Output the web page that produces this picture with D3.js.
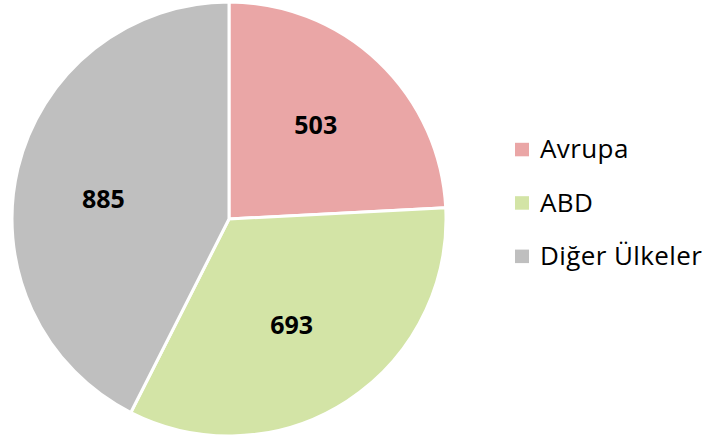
<!DOCTYPE html>
<html><head><meta charset="utf-8">
<script src="https://cdn.jsdelivr.net/npm/d3@7"></script>
<style>body{margin:0;background:#fff}</style>
</head><body><svg id="c" width="713" height="441"></svg>
<script>
const categories = ["Avrupa", "ABD", "Diğer Ülkeler"];
const values = [503, 693, 885];
const colors = ["#EAA6A6", "#D3E4A6", "#BFBFBF"];

const svg = d3.select("#c");
const cx = 229, cy = 219, r = 217;
const g = svg.append("g").attr("transform", `translate(${cx},${cy})`);
const pie = d3.pie().sort(null).value(d => d)(values);
const arc = d3.arc().innerRadius(0).outerRadius(r);
g.selectAll("path").data(pie).enter().append("path")
  .attr("d", arc).attr("fill", (d,i) => colors[i])
  .attr("stroke", "#fff").attr("stroke-width", 3).attr("stroke-linejoin", "round");
const labelArc = d3.arc().innerRadius(126).outerRadius(126);
const labelNudge = [[0, -2.5], [-6, 0.5], [-3, 10]];
g.selectAll("text").data(pie).enter().append("text")
  .attr("transform", (d, i) => {
    const c = labelArc.centroid(d);
    return `translate(${c[0] + labelNudge[i][0]},${c[1] + labelNudge[i][1]})`;
  })
  .attr("text-anchor", "middle").attr("dy", "0.35em")
  .attr("font-family", "Open Sans, sans-serif").attr("font-weight", "bold")
  .attr("font-size", 25).attr("fill", "#000").text(d => d.data);

const leg = svg.append("g");
categories.forEach((c, i) => {
  const base = 158.3 + i * 53.4;
  leg.append("rect").attr("x", 515).attr("y", base - 15.5).attr("width", 14).attr("height", 13.5).attr("fill", colors[i]);
  leg.append("text").attr("x", 540).attr("y", base)
    .attr("font-family", "Open Sans, sans-serif").attr("font-size", 26)
    .attr("letter-spacing", 0.4).attr("fill", "#000").text(c);
});
</script></body></html>
